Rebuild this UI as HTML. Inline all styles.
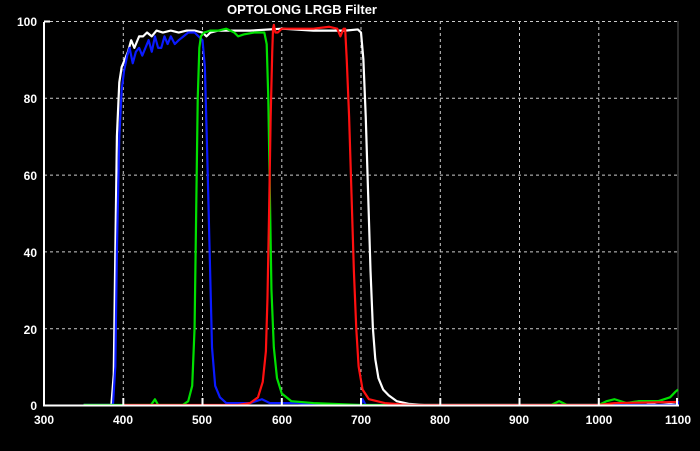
<!DOCTYPE html>
<html><head><meta charset="utf-8"><style>
html,body{margin:0;padding:0;background:#000;}
svg{display:block;}
text{font-family:"Liberation Sans",sans-serif;font-weight:bold;fill:#fff;}
</style></head><body>
<svg width="700" height="451" viewBox="0 0 700 451" xmlns="http://www.w3.org/2000/svg">
<rect width="700" height="451" fill="#000"/>
<text x="302" y="14" font-size="13" text-anchor="middle">OPTOLONG LRGB Filter</text>
<g stroke="#ccc" stroke-width="1" stroke-dasharray="3,3" fill="none">
<line x1="44" y1="21.5" x2="678" y2="21.5"/>
<line x1="44" y1="98.3" x2="678" y2="98.3"/>
<line x1="44" y1="175.1" x2="678" y2="175.1"/>
<line x1="44" y1="251.9" x2="678" y2="251.9"/>
<line x1="44" y1="328.7" x2="678" y2="328.7"/>
<line x1="123.3" y1="21" x2="123.3" y2="405"/>
<line x1="202.5" y1="21" x2="202.5" y2="405"/>
<line x1="281.8" y1="21" x2="281.8" y2="405"/>
<line x1="361" y1="21" x2="361" y2="405"/>
<line x1="440.3" y1="21" x2="440.3" y2="405"/>
<line x1="519.5" y1="21" x2="519.5" y2="405"/>
<line x1="598.8" y1="21" x2="598.8" y2="405"/>
</g>
<line x1="678" y1="21" x2="678" y2="405" stroke="#555"/>
<g fill="none" stroke-width="2.2" stroke-linejoin="round" transform="translate(44,405) scale(0.7925,-3.84) translate(-300,0)">
<polyline vector-effect="non-scaling-stroke" stroke="#fff" points="350,0 385,0 388,8 390,40 392,70 395,84 398,88 402,90 406,92 410,95 414,93 420,96 425,96 430,97 436,96 442,97.5 450,97 460,97.5 470,97 480,97.5 490,97.5 500,97 505,96 510,97 520,97.5 560,97.5 600,98 640,97.5 680,97.5 696,97.8 700,97 703,90 706,75 709,55 712,35 715,20 718,12 722,7 728,4 735,2.5 745,1 760,0.3 780,0 1060,0 1075,0.8 1090,0.5 1100,0.8"/>
<polyline vector-effect="non-scaling-stroke" stroke="#0a1aff" points="350,0 387,0 390,10 392,40 395,70 398,82 401,87 405,91 408,93 412,89 416,92 420,93 424,91 428,93 432,95 436,92 440,96 444,93 448,93 452,96 456,94 460,96 465,94 470,95 476,96 482,97 490,97 495,96 500,95 503,88 506,65 509,40 512,15 516,5 522,2 530,0.5 560,0.5 575,1.5 585,0.5 620,0.5 650,0 700,0 702,1.5 706,0 1100,0 1100,1"/>
<polyline vector-effect="non-scaling-stroke" stroke="#00e000" points="350,0 435,0 440,1.5 444,0 475,0 482,1 487,5 490,20 492,50 494,80 496,93 498,96 502,97 510,97.5 520,97.5 530,98 540,97 545,96 552,96.5 565,97 578,97 581,94 583,80 585,55 587,30 590,15 594,7 600,3 612,1 640,0.5 700,0 940,0 950,1 960,0 1000,0 1010,1 1020,1.5 1035,0.5 1050,1 1075,1 1090,2 1097,3.5 1100,4"/>
<polyline vector-effect="non-scaling-stroke" stroke="#ff1010" points="400,0 545,0 560,0.5 570,2 576,6 580,14 582,28 584,50 586,75 588,92 589,98 590,99 592,97 595,97 600,98 620,98 640,98 660,98.5 670,98 674,96 678,98 680,98 682,90 685,75 688,55 691,35 694,20 697,10 702,4 710,1.5 730,0.5 760,0 1000,0 1020,0.5 1100,0.8"/>
</g>
<line x1="44" y1="22" x2="44" y2="406" stroke="#fff" stroke-width="2"/>
<line x1="43" y1="405.5" x2="679" y2="405.5" stroke="#fff" stroke-width="2"/>
<line x1="44" y1="21.5" x2="50" y2="21.5" stroke="#fff" stroke-width="2"/>
<g stroke="#fff" stroke-width="2">
<line x1="123.3" y1="398" x2="123.3" y2="405"/><line x1="202.5" y1="398" x2="202.5" y2="405"/>
<line x1="281.8" y1="398" x2="281.8" y2="405"/><line x1="361" y1="398" x2="361" y2="405"/>
<line x1="440.3" y1="398" x2="440.3" y2="405"/><line x1="519.5" y1="398" x2="519.5" y2="405"/>
<line x1="598.8" y1="398" x2="598.8" y2="405"/><line x1="677" y1="398" x2="677" y2="405"/>
</g>
<g font-size="12" text-anchor="end">
<text x="37" y="26">100</text><text x="37" y="103">80</text><text x="37" y="180">60</text>
<text x="37" y="257">40</text><text x="37" y="334">20</text><text x="37" y="410">0</text>
</g>
<g font-size="12" text-anchor="middle">
<text x="44" y="424">300</text><text x="123" y="424">400</text><text x="202" y="424">500</text>
<text x="282" y="424">600</text><text x="361" y="424">700</text><text x="440" y="424">800</text>
<text x="519" y="424">900</text><text x="599" y="424">1000</text><text x="678" y="424">1100</text>
</g>
</svg>
</body></html>
